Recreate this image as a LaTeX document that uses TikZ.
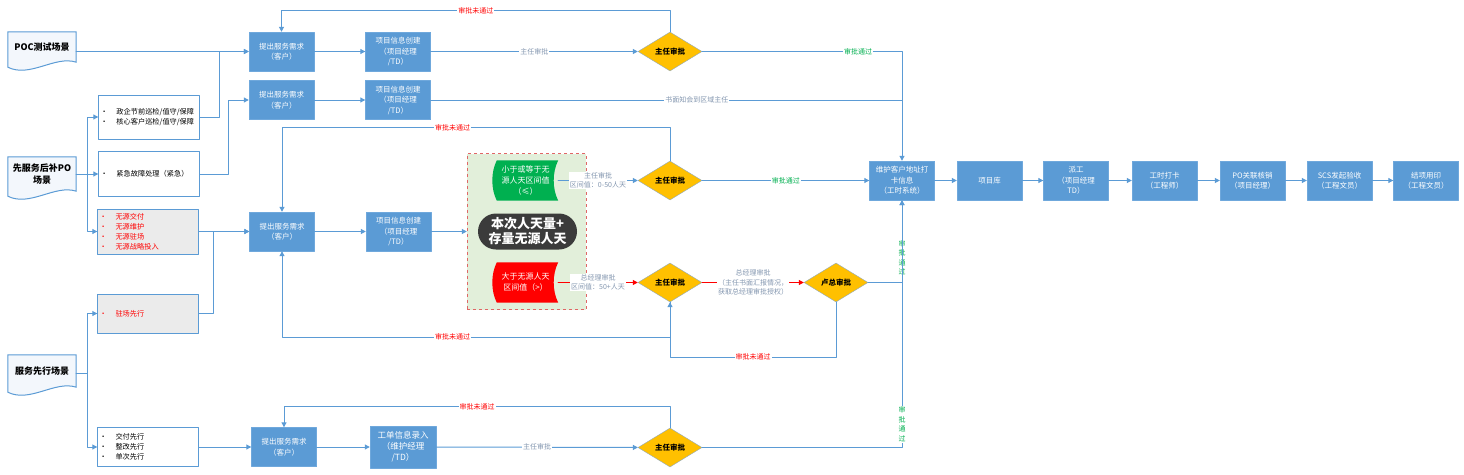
\documentclass[tikz,border=0pt]{standalone}
\usepackage{fontspec}
\setmainfont{Noto Sans CJK SC}
\usetikzlibrary{arrows.meta,backgrounds,shapes.geometric}
\definecolor{boxblue}{HTML}{5B9BD5}
\definecolor{boxedge}{HTML}{6FA8DC}
\definecolor{lineblue}{HTML}{5B9BD5}
\definecolor{chkyellow}{HTML}{FFC000}
\definecolor{chkedge}{HTML}{8EA9C1}
\definecolor{lblgray}{HTML}{8497B0}
\definecolor{okgreen}{HTML}{00B050}
\definecolor{nored}{HTML}{FF0000}
\definecolor{listgray}{HTML}{EBEBEB}
\definecolor{zonegreen}{HTML}{E2EFDA}
\definecolor{zonered}{HTML}{E06666}
\definecolor{pillgray}{HTML}{3B3B3B}
\definecolor{docfill}{HTML}{F3F7FC}
\begin{document}
\begin{tikzpicture}[x=1pt,y=-1pt,line cap=round,line join=round,font=\fontsize{7.5}{10.5}\selectfont,>={Triangle[length=5pt,width=5pt]}]
			\tikzset{flow/.style={draw=lineblue,line width=1pt},
				redflow/.style={draw=nored,line width=1pt},
				blue box/.style={rectangle,fill=boxblue,draw=boxedge,text=white,minimum width=65,minimum height=39,align=center,inner sep=1pt},
				check/.style={diamond,fill=chkyellow,draw=chkedge,aspect=1.64,minimum width=64,minimum height=39,inner sep=0pt,font=\fontsize{7.5}{9}\selectfont\bfseries},
				list box/.style={rectangle,draw=lineblue,fill=white,minimum width=101,text width=97,align=left,inner xsep=2pt,font=\fontsize{7.2}{10}\selectfont},
				doc/.style={rectangle,minimum width=68,minimum height=30,align=center,font=\fontsize{9}{12}\selectfont\bfseries},
				lbl/.style={fill=white,inner sep=1pt,text=lblgray,font=\fontsize{7}{9.5}\selectfont,align=center},
				oklbl/.style={lbl,text=okgreen},
				nolbl/.style={lbl,text=nored},
				qtext/.style={rectangle,minimum width=65,minimum height=40,text=white,align=center,font=\fontsize{8}{11}\selectfont},
				zone/.style={rectangle,fill=zonegreen,draw=zonered,dashed,minimum width=119,minimum height=156},
				pill/.style={rectangle,rounded corners=18pt,fill=pillgray,text=white,minimum width=99,minimum height=36,align=center,font=\fontsize{13}{15}\selectfont\bfseries}}
			\useasboundingbox (0,0) rectangle (1464,474);
			\node[doc] (docpoc) at (42,47) {POC测试场景};
			\node[doc,minimum height=34] (docpo) at (42,174) {先服务后补PO\\场景};
			\node[doc,minimum height=32] (docsvc) at (42,371) {服务先行场景};
			\node[list box,minimum height=44] (lista) at (149,117) {\makebox[16pt][l]{\textbullet}政企节前巡检/值守/保障\\\makebox[16pt][l]{\textbullet}核心客户巡检/值守/保障};
			\node[list box,minimum height=45] (listb) at (149,174) {\makebox[16pt][l]{\textbullet}紧急故障处理（紧急）};
			\node[list box,minimum height=45,fill=listgray,text=nored] (listc) at (148,231.5) {\makebox[16pt][l]{\textbullet}无源交付\\\makebox[16pt][l]{\textbullet}无源维护\\\makebox[16pt][l]{\textbullet}无源驻场\\\makebox[16pt][l]{\textbullet}无源战略投入};
			\node[list box,minimum height=39,fill=listgray,text=nored] (listd) at (148,313.5) {\makebox[16pt][l]{\textbullet}驻场先行};
			\node[list box,minimum height=39] (liste) at (148,447) {\makebox[16pt][l]{\textbullet}交付先行\\\makebox[16pt][l]{\textbullet}整改先行\\\makebox[16pt][l]{\textbullet}单次先行};
			\node[blue box] (req1) at (281.5,51.5) {提出服务需求\\（客户）};
			\node[blue box] (req2) at (281.5,100) {提出服务需求\\（客户）};
			\node[blue box] (req3) at (282,231.5) {提出服务需求\\（客户）};
			\node[blue box] (req4) at (284,447) {提出服务需求\\（客户）};
			\node[blue box] (proj1) at (398,51.5) {项目信息创建\\（项目经理\\/TD）};
			\node[blue box] (proj2) at (398,100) {项目信息创建\\（项目经理\\/TD）};
			\node[blue box] (proj3) at (398.5,231.5) {项目信息创建\\（项目经理\\/TD）};
			\node[blue box,minimum width=66,minimum height=42,font=\fontsize{8.5}{11}\selectfont] (proj4) at (403,447) {工单信息录入\\（维护经理\\/TD）};
			\node[check] (chk1) at (670,51.5) {主任审批};
			\node[check] (chk2) at (670,180.5) {主任审批};
			\node[check] (chk3) at (670,282.5) {主任审批};
			\node[check] (chk4) at (836,282.5) {卢总审批};
			\node[check] (chk5) at (670,447.5) {主任审批};
			\node[qtext] (lowq) at (525.5,180.5) {小于或等于无\\源人天区间值\\（≤）};
			\node[qtext] (highq) at (525.5,282.5) {大于无源人天\\区间值（>）};
			\node[pill] (total) at (527.5,231.5) {本次人天量+\\存量无源人天};
			\node[blue box] (punch) at (902,180.5) {维护客户地址打\\卡信息\\（工时系统）};
			\node[blue box] (lib) at (989.5,180.5) {项目库};
			\node[blue box] (dispatch) at (1076,180.5) {派工\\（项目经理\\TD）};
			\node[blue box] (clock) at (1164.5,180.5) {工时打卡\\（工程师）};
			\node[blue box] (po) at (1252.5,180.5) {PO关联核销\\（项目经理）};
			\node[blue box] (scs) at (1339.5,180.5) {SCS发起验收\\（工程文员）};
			\node[blue box] (close) at (1426,180.5) {结项用印\\（工程文员）};
			\begin{scope}[on background layer]
				\node[zone] (zone) at (526.5,231.5) {};
				\foreach \d in {docpoc,docpo,docsvc}
				\filldraw[draw=lineblue,fill=docfill,line width=1pt] (\d.north west) -- (\d.north east) -- (\d.south east) .. controls ([xshift=-21pt,yshift=7pt]\d.south east) and ([xshift=22pt,yshift=-16pt]\d.south west) .. ([yshift=-5pt]\d.south west) -- cycle;
				\fill[okgreen] ([xshift=4pt]lowq.north west) -- (lowq.north east) .. controls ([xshift=-6pt,yshift=-12pt]lowq.north east) and ([xshift=-6pt,yshift=12pt]lowq.south east) .. (lowq.south east) -- ([xshift=4pt]lowq.south west) .. controls ([xshift=-2pt,yshift=12pt]lowq.south west) and ([xshift=-2pt,yshift=-12pt]lowq.north west) .. ([xshift=4pt]lowq.north west) -- cycle;
				\fill[nored] ([xshift=4pt]highq.north west) -- (highq.north east) .. controls ([xshift=-6pt,yshift=-12pt]highq.north east) and ([xshift=-6pt,yshift=12pt]highq.south east) .. (highq.south east) -- ([xshift=4pt]highq.south west) .. controls ([xshift=-2pt,yshift=12pt]highq.south west) and ([xshift=-2pt,yshift=-12pt]highq.north west) .. ([xshift=4pt]highq.north west) -- cycle;
			\end{scope}
			\draw[flow,->] (docpoc.east |- req1.west) -- (req1.west);
			\draw[flow] (docpo.east) -- ++(11,0) coordinate (pofork);
			\draw[flow,->] (pofork) |- (lista.west);
			\draw[flow,->] (pofork) |- (listb.west);
			\draw[flow,->] (pofork) |- (listc.west);
			\draw[flow] ([yshift=-2pt]docsvc.east) -- ++(11,0) coordinate (svcfork);
			\draw[flow,->] (svcfork) |- (listd.west);
			\draw[flow,->] (svcfork) |- (liste.west);
			\draw[flow,->] (lista.east) -- ++(20,0) |- (req1.west);
			\draw[flow,->] (listb.east) -- ++(29,0) |- (req2.west);
			\draw[flow,->] (listc.east) -- (req3.west);
			\draw[flow,->] (listd.east) -- ++(15,0) |- (req3.west);
			\draw[flow,->] (liste.east) -- (req4.west);
			\draw[flow,->] (req1) -- (proj1);
			\draw[flow,->] (req2) -- (proj2);
			\draw[flow,->] (req3) -- (proj3);
			\draw[flow,->] (req4) -- (proj4);
			\draw[flow,->] (proj1) -- (chk1) node[lbl,midway] {主任审批};
			\draw[flow,->] (proj4) -- (chk5) node[lbl,midway] {主任审批};
			\draw[flow] (proj2.east) -- (punch.north |- proj2.east) node[lbl,pos=0.565] {书面知会到区域主任};
			\draw[flow,->] (proj3.east) -- (zone.west);
			\draw[flow,->] (chk1.north) -- ++(0,-21) -| (req1.north) node[nolbl,pos=0.25] {审批未通过};
			\draw[flow,->] (chk1.east) -| (punch.north) node[oklbl,pos=0.39] {审批通过};
			\draw[flow,->] (lowq.east) -- (chk2.west) node[lbl,midway] {主任审批\\区间值：0-50人天};
			\draw[flow,->] (chk2.east) -- (punch.west) node[oklbl,midway] {审批通过};
			\draw[flow,->] (chk2.north) -- ++(0,-33) -| (req3.north) node[nolbl,pos=0.28] {审批未通过};
			\draw[redflow,->] (highq.east) -- (chk3.west) node[lbl,midway] {总经理审批\\区间值：50+人天};
			\draw[redflow,->] (chk3.east) -- (chk4.west) node[lbl,midway] {总经理审批\\（主任书面汇报情况，\\获取总经理审批授权）};
			\draw[flow,->] (chk3.south) -- ++(0,35) -| (req3.south) node[nolbl,pos=0.28] {审批未通过};
			\draw[flow,->] (chk4.south) -- ++(0,55) -| (chk3.south) node[nolbl,pos=0.25] {审批未通过};
			\draw[flow,->] (chk4.east) -| (punch.south) node[oklbl,pos=0.65] {审\\批\\通\\过};
			\draw[flow,->] (chk5.east) -| (punch.south) node[oklbl,pos=0.547] {审\\批\\通\\过};
			\draw[flow,->] (chk5.north) -- ++(0,-21) -| (req4.north) node[nolbl,pos=0.25] {审批未通过};
			\foreach \a/\b in {punch/lib,lib/dispatch,dispatch/clock,clock/po,po/scs,scs/close}
			\draw[flow,->] (\a) -- (\b);
			
		\end{tikzpicture}
\end{document}
